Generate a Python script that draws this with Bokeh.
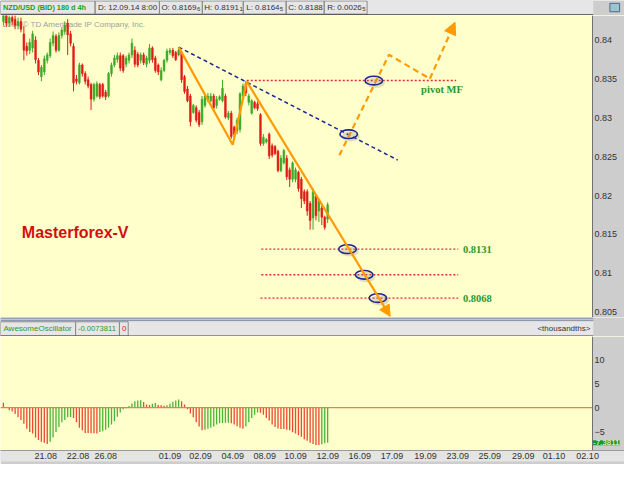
from bokeh.plotting import figure
from bokeh.models import (Range1d, FixedTicker, NumeralTickFormatter, Label, Arrow,
                          NormalHead, ColumnDataSource, BoxAnnotation, LinearAxis)
from bokeh.layouts import column
from bokeh.embed import file_html
from bokeh.resources import INLINE

# ---------------- data ----------------
OPEN = [.8424, .8432, .8422, .8429, .8427, .8419, .8424, .8408, .8392, .8387,
        .8390, .8400, .8374, .8353, .8359, .8374, .8380, .8396, .8405, .8387,
        .8406, .8411, .8422, .8408, .8392, .8350, .8345, .8368, .8357, .8349,
        .8343, .8324, .8328, .8343, .8343, .8333, .8328, .8357, .8368, .8375,
        .8380, .8380, .8369, .8374, .8381, .8387, .8382, .8374, .8381, .8369,
        .8374, .8390, .8377, .8368, .8349, .8361, .8374, .8384, .8387, .8384,
        .8381, .8384, .8353, .8337, .8328, .8307, .8313, .8307, .8295, .8316,
        .8324, .8322, .8328, .8316, .8324, .8322, .8328, .8300, .8306, .8288,
        .8283, .8285, .8328, .8344, .8320, .8306, .8320, .8318, .8304, .8267,
        .8269, .8279, .8264, .8263, .8257, .8232, .8242, .8248, .8233, .8221,
        .8221, .8230, .8221, .8205, .8205, .8190, .8171, .8199, .8180, .8184,
        .8172, .81696]
HIGH = [.8439, .8437, .8434, .8437, .8432, .8429, .8429, .8418, .8397, .8402,
        .8412, .8405, .8377, .8368, .8380, .8384, .8402, .8411, .8408, .8410,
        .8417, .8424, .8427, .8412, .8396, .8355, .8371, .8370, .8360, .8353,
        .8345, .8345, .8347, .8345, .8345, .8336, .8359, .8371, .8381, .8384,
        .8384, .8382, .8380, .8384, .8402, .8392, .8385, .8384, .8384, .8380,
        .8395, .8392, .8380, .8370, .8365, .8376, .8389, .8390, .8390, .8386,
        .8391, .8386, .8355, .8341, .8331, .8318, .8316, .8310, .8328, .8331,
        .8332, .8332, .8331, .8328, .8329, .8349, .8331, .8309, .8309, .8290,
        .8300, .8333, .8344, .8347, .8331, .8324, .8322, .8321, .8306, .8279,
        .8274, .8281, .8267, .8265, .8259, .8252, .8260, .8252, .8236, .8244,
        .8236, .8232, .8224, .8208, .8208, .8193, .8209, .8201, .8196, .8187,
        .8174, .81911]
LOW = [.8419, .8417, .8417, .8419, .8414, .8414, .8410, .8374, .8380, .8382,
       .8384, .8370, .8355, .8347, .8355, .8370, .8377, .8392, .8384, .8385,
       .8402, .8407, .8381, .8392, .8334, .8343, .8343, .8353, .8343, .8338,
       .8310, .8321, .8326, .8324, .8326, .8323, .8326, .8353, .8365, .8371,
       .8360, .8358, .8365, .8370, .8377, .8365, .8365, .8370, .8368, .8365,
       .8370, .8371, .8358, .8355, .8347, .8359, .8371, .8381, .8377, .8373,
       .8379, .8345, .8331, .8320, .8289, .8305, .8294, .8288, .8291, .8313,
       .8320, .8320, .8310, .8312, .8322, .8320, .8299, .8297, .8273, .8275,
       .8279, .8281, .8326, .8328, .8316, .8304, .8311, .8309, .8264, .8264,
       .8267, .8247, .8249, .8252, .8230, .8230, .8240, .8220, .8211, .8217,
       .8217, .8205, .8184, .8189, .8174, .8156, .8156, .8168, .8166, .8162,
       .8156, .81645]
CLOSE = [.8432, .8422, .8429, .8424, .8419, .8424, .8414, .8387, .8386, .8397,
         .8408, .8375, .8359, .8365, .8376, .8381, .8397, .8406, .8387, .8406,
         .8413, .8419, .8407, .8396, .8345, .8347, .8368, .8357, .8347, .8341,
         .8324, .8343, .8344, .8327, .8328, .8327, .8357, .8368, .8377, .8380,
         .8364, .8361, .8377, .8381, .8396, .8369, .8368, .8381, .8371, .8377,
         .8390, .8375, .8361, .8359, .8361, .8374, .8386, .8387, .8380, .8375,
         .8387, .8349, .8334, .8322, .8295, .8316, .8297, .8291, .8324, .8328,
         .8328, .8328, .8313, .8324, .8327, .8338, .8301, .8306, .8276, .8279,
         .8297, .8331, .8341, .8332, .8328, .8322, .8313, .8312, .8267, .8275,
         .8272, .8251, .8252, .8254, .8232, .8248, .8258, .8224, .8221, .8242,
         .8233, .8209, .8196, .8193, .8180, .8168, .8205, .8174, .8193, .8172,
         .8159, .8188]
AO = [1.02, 0.14, -0.54, -0.82, -1.36, -2.04, -2.59, -3.40, -4.42, -5.10,
      -5.44, -6.26, -6.80, -7.14, -7.35, -7.62, -7.14, -6.26, -5.10, -4.08,
      -3.06, -2.59, -2.04, -1.97, -2.18, -3.06, -4.22, -4.76, -5.31, -5.33,
      -5.36, -5.38, -5.40, -5.10, -4.97, -4.63, -4.22, -3.54, -2.86, -1.90,
      -1.02, -0.34, -0.14, 0.34, 0.88, 1.36, 1.50, 1.52, 1.16, 0.68,
      0.54, 0.82, 0.95, 0.54, 0.48, 0.41, 0.48, 0.82, 1.22, 1.50,
      1.70, 1.36, 0.68, -0.34, -1.22, -2.04, -3.06, -3.95, -4.76, -4.63,
      -4.42, -4.22, -3.95, -3.54, -3.27, -3.20, -3.17, -3.15, -3.27, -3.54,
      -3.88, -4.22, -4.42, -3.95, -3.06, -2.18, -1.50, -1.02, -1.05, -1.50,
      -2.18, -2.72, -3.54, -4.08, -4.35, -4.49, -4.50, -4.63, -4.76, -5.17,
      -5.44, -5.78, -6.12, -6.60, -6.94, -7.35, -7.62, -7.82, -7.85, -7.69,
      -7.48, -7.3811]

DATE_TICKS = [14.5, 25.5, 35, 57, 67.5, 78.5, 89.5, 100, 111, 122, 133, 144.5,
              155.5, 166.5, 178, 188.5, 200]
DATE_LABELS = ["21.08", "22.08", "26.08", "01.09", "02.09", "04.09", "08.09", "10.09",
               "12.09", "16.09", "17.09", "19.09", "23.09", "25.09", "29.09", "01.10", "02.10"]
PRICE_TICKS = [0.805, 0.81, 0.815, 0.82, 0.825, 0.83, 0.835, 0.84]
AO_TICKS = [-5, 0, 5, 10]

# analysis drawings (bar index, price)
LEVELS = [0.8348, 0.8131, 0.8098, 0.8068]
LEVEL_X0 = [83.3, 88.3, 88.3, 88.0]
LEVEL_X1 = [155.0, 155.7, 155.7, 155.7]
LEVEL_TEXT = ["pivot MF", "0.8131", "", "0.8068"]
TREND_X = [60, 135]
TREND_Y = [0.8391, 0.82456]
WAVE_X = [60, 78.5, 83.33]
WAVE_Y = [0.8391, 0.82653, 0.83467]
WAVE_END = (132.4, 0.80445)
PLAN_X = [115, 132, 146]
PLAN_Y = [0.82518, 0.83811, 0.83503]
PLAN_END = (154.6, 0.84230)
MARK_X = [126.8, 118.2, 117.8, 123.5, 128.2]
MARK_Y = [0.8348, 0.82789, 0.8131, 0.8098, 0.8068]

# ---------------- style ----------------
UI = "Liberation Sans"
BG = "#ffffcc"
STRIP = "#cdcdcd"
HEAD = "#e6e6e6"
RED = "#e01c16"
GREEN = "#3caa28"
AO_RED = "#ea4a36"
AO_GREEN = "#4cb43a"
ORANGE = "#ff9a00"
NAVY = "#1f2690"
TXT = "#333333"

W = 624
FRAME_W = 592
X0, X1 = -1, 201.67                      # visible bar span (left edge .. value strip)
XR = Range1d(X0, X0 + (X1 - X0) * W / FRAME_W)   # frame includes the grey value strip


def strip_fig(h, yspan):
    return figure(width=W, height=h, x_range=Range1d(0, 640), y_range=Range1d(yspan, 0),
                  x_axis_type=None, y_axis_type=None, toolbar_location=None,
                  output_backend="svg", min_border=0, outline_line_color=None,
                  background_fill_color=STRIP, border_fill_color=STRIP)


def add_text(f, x, y, text, color=TXT, size="8px", style="normal", align="left", font=UI):
    f.add_layout(Label(x=x, y=y, text=text, text_color=color, text_font_size=size,
                       text_font_style=style, text_align=align, text_baseline="middle",
                       text_font=font))


def value_axis(ticks, fmt=None):
    ax = LinearAxis(fixed_location=X1, ticker=FixedTicker(ticks=ticks, minor_ticks=[]))
    if fmt is not None:
        ax.formatter = fmt
    ax.major_tick_out = 0
    ax.major_tick_in = 0
    ax.minor_tick_out = 0
    ax.major_label_standoff = 2
    ax.axis_line_color = "#707070"
    ax.major_label_text_font = UI
    ax.major_label_text_font_size = "9px"
    ax.major_label_text_color = TXT
    return ax

# ---------- top header ----------
hdr = strip_fig(15, 16)
hdr.quad(left=[0], right=[608], top=[0], bottom=[15], fill_color=HEAD, line_color=None)
BOX_L = [0, 97, 163, 207, 249, 293, 332]
BOX_R = [97, 163, 207, 249, 293, 332, 376]
hdr.quad(left=BOX_L, right=BOX_R, top=[0.5] * 7, bottom=[14.5] * 7, fill_color=None,
         line_color="#8c8c8c", line_width=1)
hdr.segment(x0=[0], y0=[15.3], x1=[608], y1=[15.3], line_color="#404040", line_width=1.2)
hdr.quad(left=[625], right=[635], top=[3], bottom=[12], fill_color="#9cc4d0", line_color="#4a6a8a")
add_text(hdr, 2.5, 7.6, "NZD/USD (BID) 180 d 4h", color="#18a018", style="bold", size="7.3px")
add_text(hdr, 100, 7.6, "D: 12.09.14 8:00")
for x, t, xs, s in [(165, "O: 0.8169", 201.5, "6"), (209, "H: 0.8191", 245, "1"),
                    (252, "L: 0.8164", 286.5, "5"), (295, "C: 0.8188", None, ""),
                    (335, "R: 0.0026", 371, "5")]:
    add_text(hdr, x, 7.6, t)
    if xs:
        add_text(hdr, xs, 9.3, s, size="6px")

# ---------- price panel ----------
p = figure(width=W, height=302, x_range=XR, y_range=Range1d(0.8043, 0.84317),
           x_axis_location=None, y_axis_location=None, toolbar_location=None,
           output_backend="svg", min_border_left=0, min_border_right=0, min_border_top=0,
           min_border_bottom=0, background_fill_color=BG, border_fill_color=STRIP,
           outline_line_color=None)
p.grid.visible = False
p.add_layout(BoxAnnotation(left=X1, fill_color=STRIP, fill_alpha=1, line_color=None,
                           level="underlay"))
p.add_layout(value_axis(PRICE_TICKS, NumeralTickFormatter(format="0.[000]")), "right")

p.add_layout(Label(x=X0, y=0.84206, x_offset=2, text="2014 © TD Ameritrade IP Company, Inc.",
                   text_color="#a0a0a0", text_font_size="8px", text_font=UI,
                   text_baseline="middle", level="underlay"))

N = len(CLOSE)
xs = list(range(N))
ccol = [GREEN if c >= o else RED for o, c in zip(OPEN, CLOSE)]
src = ColumnDataSource(dict(x=xs, h=HIGH, l=LOW,
                            top=[max(o, c) for o, c in zip(OPEN, CLOSE)],
                            bot=[min(o, c) for o, c in zip(OPEN, CLOSE)], color=ccol))
p.segment(x0="x", y0="h", x1="x", y1="l", line_color="color", line_width=1, source=src)
p.vbar(x="x", width=0.62, top="top", bottom="bot", fill_color="color", line_color="color",
       line_width=0.5, source=src)

# levels
p.segment(x0=LEVEL_X0, y0=LEVELS, x1=LEVEL_X1, y1=LEVELS, line_color="#e8283a",
          line_width=1.4, line_dash="2 2")
# trend line
p.line(TREND_X, TREND_Y, line_color=NAVY, line_width=1.5, line_dash="4 3")
# wave
p.line(WAVE_X, WAVE_Y, line_color=ORANGE, line_width=2.2)
p.add_layout(Arrow(end=NormalHead(size=11, fill_color=ORANGE, line_color=ORANGE),
                   x_start=WAVE_X[-1], y_start=WAVE_Y[-1], x_end=WAVE_END[0], y_end=WAVE_END[1],
                   line_color=ORANGE, line_width=2.2))
# plan
p.line(PLAN_X, PLAN_Y, line_color=ORANGE, line_width=2.2, line_dash="6 4")
p.add_layout(Arrow(end=NormalHead(size=12, fill_color=ORANGE, line_color=ORANGE),
                   x_start=PLAN_X[-1], y_start=PLAN_Y[-1], x_end=PLAN_END[0], y_end=PLAN_END[1],
                   line_color=ORANGE, line_width=2.2, line_dash="6 4"))
# marks
p.ellipse(x=[x + 0.6 for x in MARK_X], y=[y - 0.0003 for y in MARK_Y], width=6.4, height=0.0013,
          fill_color="#8a8a8a", fill_alpha=0.28, line_color=None)
p.ellipse(x=MARK_X, y=MARK_Y, width=6.0, height=0.00112, fill_color=None, line_color=NAVY,
          line_width=1.6)

# texts
p.add_layout(Label(x=143, y=LEVELS[0], y_offset=-9, text=LEVEL_TEXT[0], text_color="#2c962c",
                   text_font="Liberation Serif", text_font_style="bold", text_font_size="10.5px",
                   text_baseline="middle"))
for lv, t in zip(LEVELS[1:], LEVEL_TEXT[1:]):
    if t:
        p.add_layout(Label(x=157.3, y=lv, text=t, text_color="#2c962c", text_font="Liberation Serif",
                           text_font_style="bold", text_font_size="10.5px", text_baseline="middle"))
p.add_layout(Label(x=6.3, y=0.8152, text="Masterforex-V", text_color="#d01010",
                   text_font="Liberation Sans", text_font_style="bold", text_font_size="16px",
                   text_baseline="middle"))

# ---------- oscillator header ----------
oh = strip_fig(19, 20)
oh.quad(left=[0], right=[608], top=[0], bottom=[4], fill_color="#8f99ad", line_color=None)
oh.segment(x0=[0], y0=[2], x1=[608], y1=[2], line_color="#c8cedb", line_width=1)
oh.quad(left=[0], right=[608], top=[4], bottom=[20], fill_color=HEAD, line_color=None)
oh.quad(left=[0, 77, 122], right=[77, 122, 131], top=[4.5] * 3, bottom=[19.5] * 3,
        fill_color=None, line_color="#8c8c8c")
oh.segment(x0=[0], y0=[19.6], x1=[608], y1=[19.6], line_color="#404040", line_width=1.2)
add_text(oh, 3, 12, "AwesomeOscillator", color="#2c9a2c", size="8px")
add_text(oh, 79.5, 12, "-0.0073811", color="#2c9a2c", size="7.6px")
add_text(oh, 124.5, 12, "0", color="#e02020")
add_text(oh, 605, 12, "<thousandths>", align="right")

# ---------- oscillator panel ----------
o = figure(width=W, height=128, x_range=XR, y_range=Range1d(-8.98, 14.9),
           y_axis_location=None, toolbar_location=None, output_backend="svg",
           min_border_left=0, min_border_right=0, min_border_top=0, min_border_bottom=14,
           background_fill_color=BG, border_fill_color=STRIP, outline_line_color=None)
o.grid.visible = False
o.add_layout(BoxAnnotation(left=X1, fill_color=STRIP, fill_alpha=1, line_color=None,
                           level="underlay"))
acol = [AO_RED] + [AO_GREEN if AO[i] > AO[i - 1] else AO_RED for i in range(1, len(AO))]
o.vbar(x=list(range(len(AO))), width=0.45, top=AO, bottom=0, fill_color=acol, line_color=None)
o.segment(x0=[X0], y0=[0], x1=[X1], y1=[0], line_color="#f0795c", line_width=1.2)
o.add_layout(value_axis(AO_TICKS), "right")
ox = o.xaxis[0]
ox.ticker = FixedTicker(ticks=DATE_TICKS, minor_ticks=[])
ox.major_label_overrides = {t: l for t, l in zip(DATE_TICKS, DATE_LABELS)}
ox.major_tick_out = 0
ox.major_tick_in = 0
ox.minor_tick_out = 0
ox.major_label_standoff = 2
ox.axis_line_color = "#9a9a9a"
ox.major_label_text_font = UI
ox.major_label_text_font_size = "9px"
ox.major_label_text_color = TXT
if "background_fill_color" in ox.properties():
    ox.background_fill_color = "#e4e4e4"
o.add_layout(Label(x=X1, y=AO[-1], x_offset=0.5, text="%.4f" % AO[-1], text_color="white",
                   background_fill_color="#1e961e", text_font=UI, text_font_size="8px",
                   text_baseline="middle"))

layout = column(hdr, p, oh, o, spacing=0)
open("out.html", "w").write(file_html(layout, INLINE))
